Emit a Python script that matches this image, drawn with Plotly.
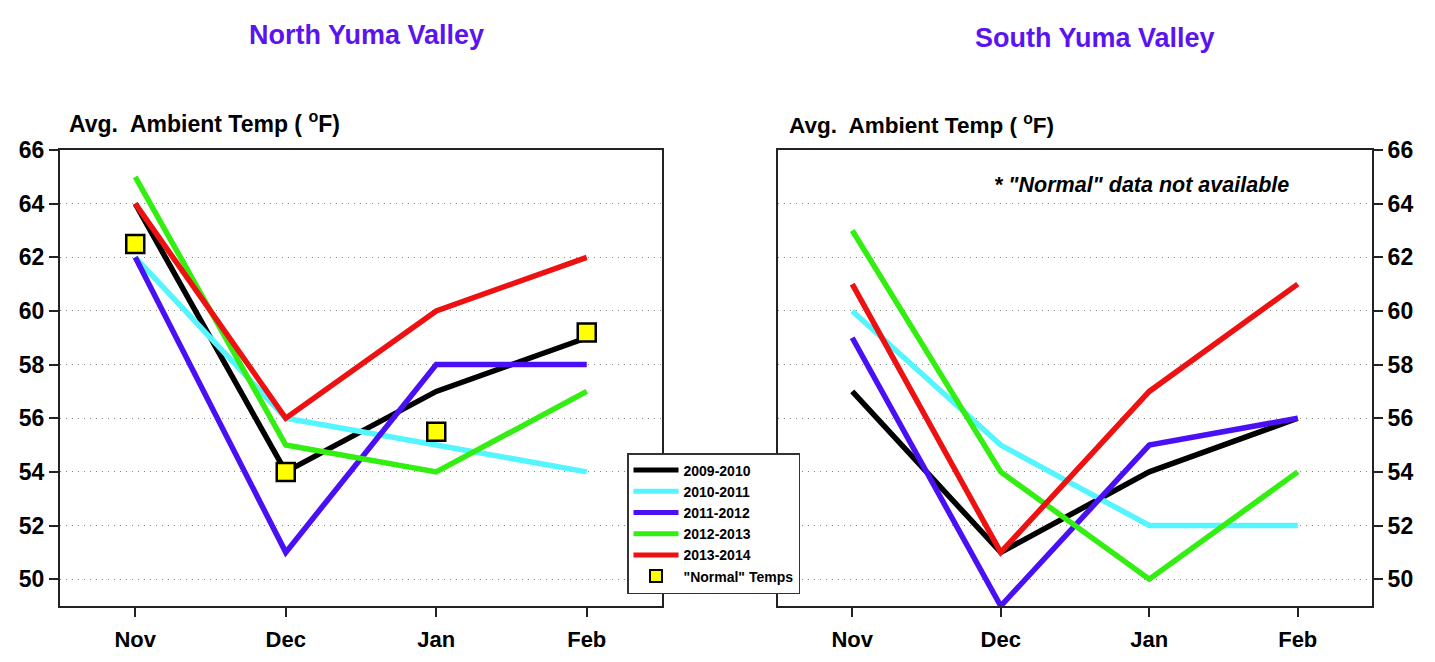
import plotly.graph_objects as go

months = ["Nov", "Dec", "Jan", "Feb"]
seasons = ["2009-2010", "2010-2011", "2011-2012", "2012-2013", "2013-2014"]
colors = ["#000000", "#55f5ff", "#4a10f5", "#33ee11", "#ee1111"]

north_2009_2010 = [64, 54, 57, 59]
north_2010_2011 = [62, 56, 55, 54]
north_2011_2012 = [62, 51, 58, 58]
north_2012_2013 = [65, 55, 54, 57]
north_2013_2014 = [64, 56, 60, 62]
north_normal = [62.5, 54, 55.5, 59.2]

south_2009_2010 = [57, 51, 54, 56]
south_2010_2011 = [60, 55, 52, 52]
south_2011_2012 = [59, 49, 55, 56]
south_2012_2013 = [63, 54, 50, 54]
south_2013_2014 = [61, 51, 57, 61]

north = [north_2009_2010, north_2010_2011, north_2011_2012, north_2012_2013, north_2013_2014]
south = [south_2009_2010, south_2010_2011, south_2011_2012, south_2012_2013, south_2013_2014]

W, H = 1435, 662
OFF = 8  # page body margin
FONT = "Liberation Sans, Arial, sans-serif"
TITLE_COLOR = "#5a14f0"


def px(x):
    return (x - OFF) / W


def py(y):
    return (H - (y - OFF)) / H


fig = go.Figure()
for name, col, ys in zip(seasons, colors, north):
    fig.add_trace(go.Scatter(x=months, y=ys, mode="lines", name=name,
                             line=dict(color=col, width=5.5), xaxis="x", yaxis="y"))
fig.add_trace(go.Scatter(x=months, y=north_normal, mode="markers", name='"Normal" Temps',
                         marker=dict(symbol="square", size=18, color="#ffff00",
                                     line=dict(color="black", width=2.5)),
                         xaxis="x", yaxis="y"))
for name, col, ys in zip(seasons, colors, south):
    fig.add_trace(go.Scatter(x=months, y=ys, mode="lines", name=name, showlegend=False,
                             line=dict(color=col, width=5.5), xaxis="x2", yaxis="y2"))

ytop, ybot = 150, 606
ydom = [py(ybot), py(ytop)]

common_x = dict(type="category", range=[-0.5, 3.5], showline=True, mirror=True,
                linecolor="#222", linewidth=2, ticks="outside", ticklen=9, tickwidth=2,
                tickcolor="#222", showgrid=False, zeroline=False, automargin=False,
                ticklabelstandoff=4,
                tickfont=dict(family=FONT, size=22, color="black", weight="bold"))
common_y = dict(range=[49, 66], tickvals=list(range(50, 67, 2)), showline=True, mirror=True,
                linecolor="#222", linewidth=2, ticks="outside", ticklen=9, tickwidth=1.5,
                tickcolor="#222", showgrid=True, gridcolor="#8a8a8a", griddash="1px,5px",
                gridwidth=1, zeroline=False, automargin=False,
                tickfont=dict(family=FONT, size=23, color="black", weight="bold"))

fig.update_layout(
    width=W, height=H,
    margin=dict(l=0, r=0, t=0, b=0, autoexpand=False),
    paper_bgcolor="white", plot_bgcolor="white",
    xaxis=dict(domain=[px(60), px(662)], anchor="y", **common_x),
    yaxis=dict(domain=ydom, anchor="x", side="left", **common_y),
    xaxis2=dict(domain=[px(778), px(1372)], anchor="y2", **common_x),
    yaxis2=dict(domain=ydom, anchor="x2", side="right", **common_y),
    showlegend=True,
    legend=dict(x=px(627), y=py(453), xanchor="left", yanchor="top",
                bgcolor="white", bordercolor="#333", borderwidth=1.5,
                font=dict(family=FONT, size=14, color="black", weight="bold"),
                tracegroupgap=0, itemsizing="constant", itemwidth=45),
    annotations=[
        dict(text="North Yuma Valley", x=px(366), y=py(35), xref="paper", yref="paper",
             xanchor="center", yanchor="middle", showarrow=False,
             font=dict(family=FONT, size=27, color=TITLE_COLOR, weight="bold")),
        dict(text="South Yuma Valley", x=px(1095), y=py(38), xref="paper", yref="paper",
             xanchor="center", yanchor="middle", showarrow=False,
             font=dict(family=FONT, size=27, color=TITLE_COLOR, weight="bold")),
        dict(text="Avg.\u00a0 Ambient Temp ( <sup>o</sup>F)", x=px(67), y=py(122),
             xref="paper", yref="paper", xanchor="left", yanchor="middle", showarrow=False,
             font=dict(family=FONT, size=23, color="black", weight="bold")),
        dict(text="Avg.\u00a0 Ambient Temp ( <sup>o</sup>F)", x=px(787), y=py(124),
             xref="paper", yref="paper", xanchor="left", yanchor="middle", showarrow=False,
             font=dict(family=FONT, size=22.5, color="black", weight="bold")),
        dict(text='<i>* "Normal" data not available</i>', x=px(1141), y=py(185),
             xref="paper", yref="paper", xanchor="center", yanchor="middle", showarrow=False,
             font=dict(family=FONT, size=21.5, color="black", weight="bold")),
    ],
)

fig.write_html("out.html")
